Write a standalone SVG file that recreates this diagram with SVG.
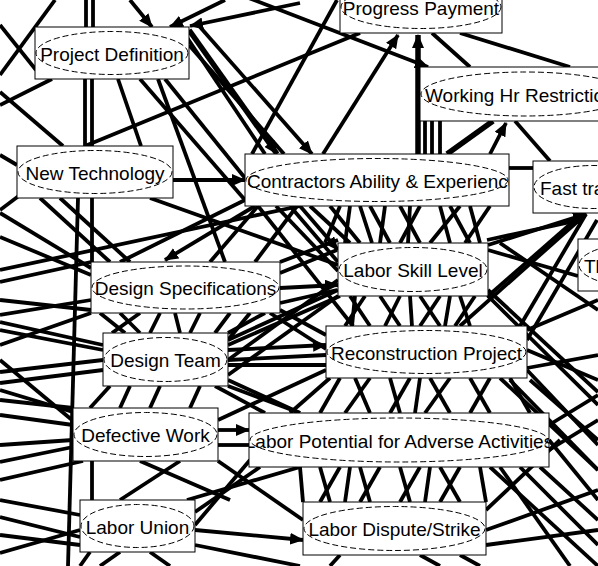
<svg xmlns="http://www.w3.org/2000/svg" width="598" height="566" viewBox="0 0 598 566">
<style>
.c line{stroke:#000;stroke-width:3.8;stroke-linecap:butt}
.c line.a{marker-end:url(#ah)}
.c line.w{stroke-width:5.5}
.n rect{fill:#fff;stroke:#000;stroke-width:1}
.n ellipse{fill:none;stroke:#000;stroke-width:1;stroke-dasharray:6 3}
.n text{font-family:"Liberation Sans",Arial,sans-serif;font-size:19px;fill:#000;text-anchor:middle}
.n text.s{text-anchor:start}
</style>
<defs>
<marker id="ah" markerUnits="userSpaceOnUse" markerWidth="14" markerHeight="12" refX="13" refY="6" orient="auto"><path d="M0,0 L14,6 L0,12 z" fill="#000"/></marker>
<clipPath id="clipCA"><rect x="245" y="154" width="264" height="52"/></clipPath>
<clipPath id="clipLP"><rect x="249" y="413" width="300" height="54"/></clipPath>
</defs>
<rect x="0" y="0" width="598" height="566" fill="#fff"/>
<g id="connectors" class="c">
<line x1="55" y1="0" x2="0" y2="75"/>
<line x1="0" y1="25" x2="36" y2="70"/>
<line x1="86" y1="0" x2="86" y2="27"/>
<line x1="93" y1="0" x2="93" y2="27"/>
<line class="a" x1="130" y1="0" x2="152" y2="27"/>
<line class="a" x1="225" y1="0" x2="170" y2="27"/>
<line class="a" x1="300" y1="3" x2="190" y2="26"/>
<line class="a" x1="150" y1="-40" x2="428" y2="67"/>
<line x1="180" y1="27" x2="265" y2="154"/>
<line class="a w" x1="189" y1="30" x2="277" y2="154"/>
<line x1="189" y1="45" x2="284" y2="154"/>
<line class="a" x1="200" y1="27" x2="312" y2="154"/>
<line x1="165" y1="79" x2="245" y2="178"/>
<line x1="140" y1="79" x2="245" y2="200"/>
<line x1="85" y1="146" x2="360" y2="33"/>
<line x1="337" y1="0" x2="252" y2="154"/>
<line class="a" x1="323" y1="154" x2="398" y2="35"/>
<line class="a w" x1="418" y1="154" x2="418" y2="35"/>
<line x1="432" y1="33" x2="470" y2="67"/>
<line x1="460" y1="33" x2="570" y2="67"/>
<line x1="425" y1="121" x2="425" y2="154"/>
<line x1="432" y1="121" x2="432" y2="154"/>
<line x1="440" y1="121" x2="440" y2="154"/>
<line class="w" x1="493" y1="121" x2="447" y2="154"/>
<line class="a" x1="490" y1="154" x2="506" y2="123"/>
<line x1="515" y1="121" x2="550" y2="161"/>
<line x1="509" y1="168" x2="533" y2="168"/>
<line x1="0" y1="155" x2="17" y2="165"/>
<line x1="0" y1="210" x2="20" y2="195"/>
<line class="a" x1="173" y1="180" x2="245" y2="180"/>
<line x1="85" y1="79" x2="85" y2="146"/>
<line x1="92" y1="79" x2="92" y2="146"/>
<line x1="118" y1="79" x2="141" y2="146"/>
<line x1="0" y1="92" x2="63" y2="146"/>
<line x1="52" y1="79" x2="0" y2="105"/>
<line x1="78" y1="198" x2="68" y2="566"/>
<line x1="92" y1="198" x2="92" y2="262"/>
<line x1="0" y1="213" x2="91" y2="268"/>
<line x1="0" y1="237" x2="91" y2="275"/>
<line x1="0" y1="282" x2="91" y2="262"/>
<line x1="0" y1="300" x2="91" y2="310"/>
<line x1="40" y1="198" x2="110" y2="262"/>
<line x1="60" y1="198" x2="130" y2="262"/>
<line x1="150" y1="198" x2="338" y2="265"/>
<line class="a" x1="255" y1="206" x2="165" y2="260"/>
<line x1="120" y1="262" x2="245" y2="200"/>
<line x1="0" y1="270" x2="300" y2="206"/>
<line x1="210" y1="262" x2="258" y2="206"/>
<line x1="255" y1="262" x2="297" y2="206"/>
<line x1="258" y1="206" x2="353" y2="326"/>
<line x1="276" y1="206" x2="338" y2="271"/>
<line x1="158" y1="79" x2="225" y2="262"/>
<line class="a" x1="280" y1="288" x2="338" y2="285"/>
<line x1="280" y1="303" x2="337" y2="290"/>
<line x1="280" y1="273" x2="337" y2="250"/>
<line class="a" x1="300" y1="206" x2="338" y2="250"/>
<line x1="290" y1="206" x2="338" y2="262"/>
<line x1="280" y1="262" x2="338" y2="240"/>
<line x1="310" y1="206" x2="350" y2="243"/>
<line x1="330" y1="206" x2="360" y2="243"/>
<line x1="350" y1="206" x2="345" y2="243"/>
<line x1="370" y1="206" x2="390" y2="243"/>
<line x1="385" y1="206" x2="380" y2="243"/>
<line x1="400" y1="206" x2="420" y2="243"/>
<line x1="420" y1="206" x2="400" y2="243"/>
<line x1="440" y1="206" x2="450" y2="243"/>
<line x1="460" y1="206" x2="430" y2="243"/>
<line x1="470" y1="206" x2="480" y2="243"/>
<line x1="490" y1="206" x2="465" y2="243"/>
<line x1="340" y1="206" x2="325" y2="243"/>
<line x1="360" y1="206" x2="372" y2="243"/>
<line x1="410" y1="206" x2="408" y2="243"/>
<line x1="450" y1="206" x2="470" y2="243"/>
<line x1="487" y1="240" x2="580" y2="220"/>
<line x1="487" y1="297" x2="583" y2="213"/>
<line x1="500" y1="243" x2="598" y2="310"/>
<line x1="527" y1="340" x2="597" y2="220"/>
<line class="a" x1="488" y1="245" x2="586" y2="214"/>
<line class="a" x1="460" y1="326" x2="586" y2="214"/>
<line x1="520" y1="326" x2="586" y2="214"/>
<line x1="488" y1="250" x2="578" y2="276"/>
<line x1="488" y1="290" x2="598" y2="392"/>
<line x1="527" y1="368" x2="598" y2="355"/>
<line x1="488" y1="296" x2="598" y2="405"/>
<line x1="500" y1="378" x2="598" y2="470"/>
<line x1="527" y1="370" x2="598" y2="445"/>
<line x1="527" y1="330" x2="598" y2="300"/>
<line x1="350" y1="296" x2="370" y2="326"/>
<line x1="365" y1="296" x2="345" y2="326"/>
<line x1="380" y1="296" x2="400" y2="326"/>
<line x1="400" y1="296" x2="385" y2="326"/>
<line x1="420" y1="296" x2="440" y2="326"/>
<line x1="440" y1="296" x2="420" y2="326"/>
<line x1="460" y1="296" x2="470" y2="326"/>
<line x1="475" y1="296" x2="455" y2="326"/>
<line x1="355" y1="296" x2="352" y2="326"/>
<line x1="410" y1="296" x2="412" y2="326"/>
<line x1="450" y1="296" x2="445" y2="326"/>
<line x1="340" y1="296" x2="228" y2="345"/>
<line x1="338" y1="280" x2="228" y2="360"/>
<line x1="0" y1="330" x2="103" y2="350"/>
<line x1="0" y1="360" x2="72" y2="420"/>
<line x1="0" y1="383" x2="103" y2="370"/>
<line x1="0" y1="315" x2="91" y2="300"/>
<line x1="91" y1="313" x2="0" y2="345"/>
<line x1="0" y1="322" x2="103" y2="345"/>
<line x1="0" y1="372" x2="103" y2="360"/>
<line x1="0" y1="415" x2="73" y2="425"/>
<line x1="120" y1="313" x2="140" y2="333"/>
<line x1="160" y1="313" x2="150" y2="333"/>
<line x1="200" y1="313" x2="190" y2="333"/>
<line x1="230" y1="313" x2="215" y2="333"/>
<line x1="250" y1="313" x2="228" y2="340"/>
<line x1="100" y1="313" x2="125" y2="333"/>
<line x1="175" y1="313" x2="180" y2="333"/>
<line x1="140" y1="313" x2="112" y2="333"/>
<line x1="265" y1="313" x2="228" y2="333"/>
<line class="a" x1="228" y1="350" x2="326" y2="345"/>
<line x1="228" y1="365" x2="326" y2="365"/>
<line x1="228" y1="340" x2="338" y2="290"/>
<line x1="228" y1="375" x2="338" y2="296"/>
<line x1="228" y1="380" x2="300" y2="413"/>
<line x1="270" y1="313" x2="326" y2="349"/>
<line x1="280" y1="310" x2="326" y2="335"/>
<line x1="130" y1="386" x2="120" y2="408"/>
<line x1="160" y1="386" x2="150" y2="408"/>
<line x1="200" y1="386" x2="190" y2="408"/>
<line x1="228" y1="386" x2="300" y2="413"/>
<line x1="110" y1="386" x2="90" y2="408"/>
<line x1="215" y1="386" x2="265" y2="413"/>
<line x1="340" y1="378" x2="320" y2="413"/>
<line x1="355" y1="378" x2="370" y2="413"/>
<line x1="370" y1="378" x2="345" y2="413"/>
<line x1="390" y1="378" x2="400" y2="413"/>
<line x1="410" y1="378" x2="390" y2="413"/>
<line x1="430" y1="378" x2="450" y2="413"/>
<line x1="450" y1="378" x2="425" y2="413"/>
<line x1="470" y1="378" x2="490" y2="413"/>
<line x1="490" y1="378" x2="470" y2="413"/>
<line x1="510" y1="378" x2="530" y2="413"/>
<line x1="330" y1="378" x2="290" y2="413"/>
<line x1="420" y1="378" x2="415" y2="413"/>
<line x1="326" y1="370" x2="218" y2="420"/>
<line x1="326" y1="355" x2="228" y2="360"/>
<line x1="320" y1="467" x2="330" y2="502"/>
<line x1="340" y1="467" x2="320" y2="502"/>
<line x1="360" y1="467" x2="370" y2="502"/>
<line x1="380" y1="467" x2="360" y2="502"/>
<line x1="400" y1="467" x2="410" y2="502"/>
<line x1="420" y1="467" x2="400" y2="502"/>
<line x1="440" y1="467" x2="460" y2="502"/>
<line x1="460" y1="467" x2="440" y2="502"/>
<line x1="480" y1="467" x2="486" y2="502"/>
<line x1="350" y1="467" x2="345" y2="502"/>
<line x1="430" y1="467" x2="425" y2="502"/>
<line x1="260" y1="467" x2="195" y2="512"/>
<line x1="250" y1="460" x2="195" y2="525"/>
<line x1="300" y1="467" x2="303" y2="502"/>
<line class="a" x1="218" y1="430" x2="249" y2="430"/>
<line x1="218" y1="445" x2="249" y2="445"/>
<line x1="218" y1="461" x2="303" y2="520"/>
<line x1="92" y1="461" x2="92" y2="500"/>
<line x1="0" y1="462" x2="73" y2="447"/>
<line x1="0" y1="445" x2="73" y2="440"/>
<line x1="0" y1="480" x2="83" y2="461"/>
<line x1="0" y1="400" x2="73" y2="408"/>
<line x1="0" y1="390" x2="73" y2="412"/>
<line x1="140" y1="461" x2="230" y2="500"/>
<line x1="180" y1="461" x2="120" y2="500"/>
<line x1="0" y1="517" x2="80" y2="537"/>
<line x1="0" y1="553" x2="80" y2="530"/>
<line x1="0" y1="500" x2="80" y2="515"/>
<line x1="0" y1="535" x2="80" y2="545"/>
<line x1="187" y1="500" x2="300" y2="467"/>
<line class="a" x1="195" y1="530" x2="303" y2="540"/>
<line x1="90" y1="552" x2="80" y2="566"/>
<line x1="150" y1="552" x2="170" y2="566"/>
<line x1="120" y1="552" x2="100" y2="566"/>
<line x1="195" y1="545" x2="300" y2="566"/>
<line x1="486" y1="530" x2="598" y2="490"/>
<line x1="486" y1="545" x2="598" y2="530"/>
<line x1="486" y1="510" x2="560" y2="440"/>
<line x1="420" y1="555" x2="440" y2="566"/>
<line x1="340" y1="555" x2="330" y2="566"/>
<line x1="460" y1="555" x2="480" y2="566"/>
<line x1="510" y1="380" x2="598" y2="470"/>
<line x1="530" y1="380" x2="598" y2="440"/>
<line x1="490" y1="467" x2="598" y2="566"/>
<line x1="549" y1="440" x2="598" y2="500"/>
<line x1="549" y1="450" x2="598" y2="420"/>
<line x1="520" y1="467" x2="598" y2="545"/>
<line x1="500" y1="467" x2="570" y2="566"/>
<line x1="549" y1="425" x2="598" y2="395"/>
<line x1="540" y1="467" x2="598" y2="520"/>
<line x1="527" y1="350" x2="598" y2="380"/>
</g>
<g id="progress-payment" class="n"><rect x="340" y="-19" width="162" height="52"/><ellipse cx="421" cy="7" rx="80" ry="21.5"/><text x="421" y="14.5">Progress Payment</text></g>
<g id="project-definition" class="n"><rect x="35" y="27" width="154" height="52"/><ellipse cx="112" cy="53" rx="76" ry="21.5"/><text x="112" y="60.5">Project Definition</text></g>
<g id="working-hr-restriction" class="n"><rect x="420" y="67" width="210" height="54"/><ellipse cx="525" cy="94" rx="104" ry="22"/><text class="s" x="425" y="101.5">Working Hr Restriction</text></g>
<g id="new-technology" class="n"><rect x="17" y="146" width="156" height="52"/><ellipse cx="95" cy="172" rx="77" ry="21.5"/><text x="95" y="179.5">New Technology</text></g>
<g id="contractors-ability" class="n"><rect x="245" y="154" width="264" height="52"/><ellipse cx="377" cy="180" rx="131" ry="21.5"/><text class="s" x="247" y="187.5" clip-path="url(#clipCA)">Contractors Ability &amp; Experience</text></g>
<g id="fast-track" class="n"><rect x="533" y="161" width="120" height="52"/><ellipse cx="593" cy="187" rx="59" ry="21.5"/><text class="s" x="540" y="194.5">Fast tra</text></g>
<g id="th-node" class="n"><rect x="578" y="239" width="120" height="52"/><ellipse cx="638" cy="265" rx="59" ry="21.5"/><text class="s" x="584" y="272.5">Th</text></g>
<g id="labor-skill-level" class="n"><rect x="338" y="243" width="150" height="53"/><ellipse cx="413" cy="269.5" rx="74" ry="22"/><text x="413" y="277">Labor Skill Level</text></g>
<g id="design-specifications" class="n"><rect x="91" y="262" width="189" height="51"/><ellipse cx="185.5" cy="287.5" rx="93.5" ry="21.5"/><text x="185.5" y="295">Design Specifications</text></g>
<g id="design-team" class="n"><rect x="103" y="333" width="125" height="53"/><ellipse cx="165.5" cy="359.5" rx="61.5" ry="22"/><text x="165.5" y="367">Design Team</text></g>
<g id="reconstruction-project" class="n"><rect x="326" y="326" width="201" height="52"/><ellipse cx="426.5" cy="352" rx="99.5" ry="21.5"/><text x="426.5" y="359.5">Reconstruction Project</text></g>
<g id="defective-work" class="n"><rect x="73" y="408" width="145" height="53"/><ellipse cx="145.5" cy="434.5" rx="71.5" ry="22"/><text x="145.5" y="442">Defective Work</text></g>
<g id="labor-potential" class="n"><rect x="249" y="413" width="300" height="54"/><ellipse cx="399" cy="440" rx="149" ry="22"/><text x="399" y="447.5" clip-path="url(#clipLP)">Labor Potential for Adverse Activities</text></g>
<g id="labor-union" class="n"><rect x="80" y="500" width="115" height="52"/><ellipse cx="137.5" cy="526" rx="56.5" ry="21.5"/><text x="137.5" y="533.5">Labor Union</text></g>
<g id="labor-dispute" class="n"><rect x="303" y="502" width="183" height="53"/><ellipse cx="394.5" cy="528.5" rx="90.5" ry="22"/><text x="394.5" y="536">Labor Dispute/Strike</text></g>
</svg>
